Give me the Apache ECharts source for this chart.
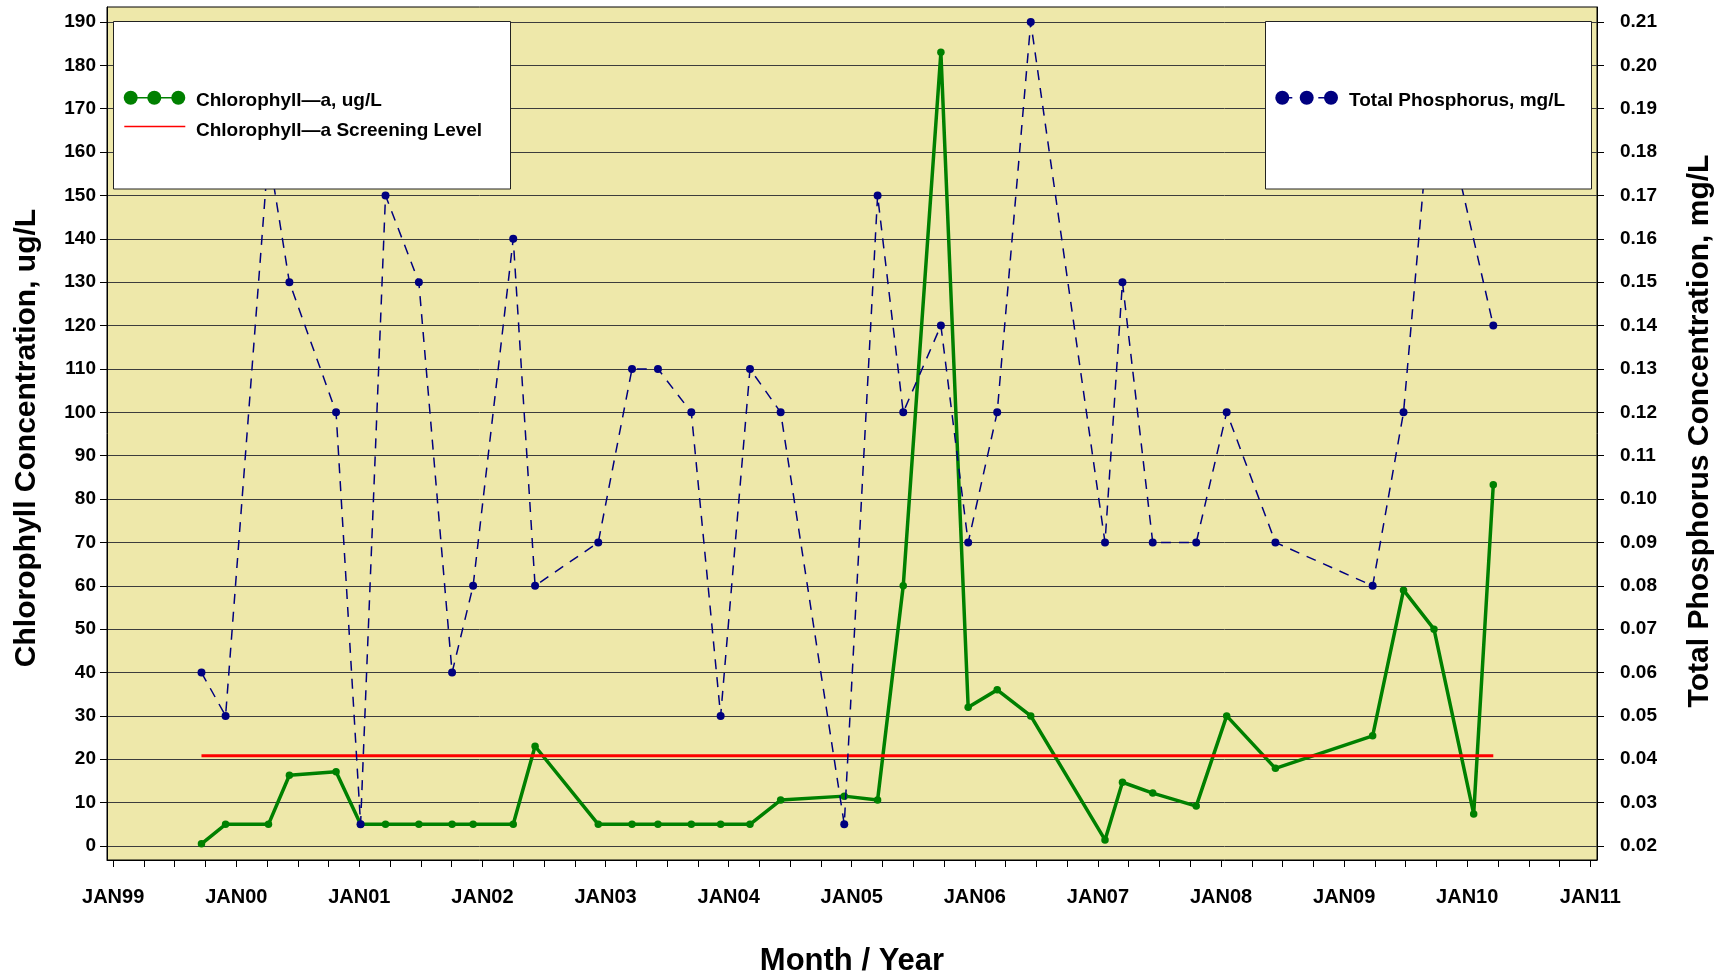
<!DOCTYPE html>
<html>
<head>
<meta charset="utf-8">
<script src="https://cdn.jsdelivr.net/npm/echarts@6/dist/echarts.min.js"></script>
<style>
html,body{margin:0;padding:0;background:#ffffff;}
#chart{width:1726px;height:975px;}
</style>
</head>
<body>
<div id="chart"></div>
<script>
// ---- data (x = months after JAN99) ----
const months = [8.61, 10.96, 15.14, 17.18, 21.73, 24.12, 26.55, 29.8, 33.04, 35.09, 39.0, 41.13, 47.29, 50.58, 53.11, 56.36, 59.22, 62.08, 65.07, 71.27, 74.52, 77.02, 80.69, 83.35, 86.18, 89.45, 96.69, 98.39, 101.34, 105.58, 108.55, 113.3, 122.78, 125.79, 128.76, 132.63, 134.54];
const chla = [0.5, 5, 5, 16.3, 17.1, 5, 5, 5, 5, 5, 5, 23, 5, 5, 5, 5, 5, 5, 10.6, 11.5, 10.6, 60, 183, 32, 36, 30, 1.4, 14.7, 12.2, 9.2, 30, 17.9, 25.4, 59, 50, 7.4, 83.3];
const phos = [0.06, 0.05, 0.18, 0.15, 0.12, 0.025, 0.17, 0.15, 0.06, 0.08, 0.16, 0.08, 0.09, 0.13, 0.13, 0.12, 0.05, 0.13, 0.12, 0.025, 0.17, 0.12, 0.14, 0.09, 0.12, 0.21, 0.09, 0.15, 0.09, 0.09, 0.12, 0.09, 0.08, 0.12, 0.20, null, 0.14];
const screeningLevel = 20.8;

// ---- tick labels ----
const xLabels = ['JAN99','JAN00','JAN01','JAN02','JAN03','JAN04','JAN05','JAN06','JAN07','JAN08','JAN09','JAN10','JAN11'];
const xLabelMonths = [0,12,24,36,48,60,72,84,96,108,120,132,144];
const xTickMonths = [0,3,6,9,12,15,18,21,24,27,30,33,36,39,42,45,48,51,54,57,60,63,66,69,72,75,78,81,84,87,90,93,96,99,102,105,108,111,114,117,120,123,126,129,132,135,138,141,144];
const leftTicks = [0,10,20,30,40,50,60,70,80,90,100,110,120,130,140,150,160,170,180,190];
const rightTicks = [0.02,0.03,0.04,0.05,0.06,0.07,0.08,0.09,0.10,0.11,0.12,0.13,0.14,0.15,0.16,0.17,0.18,0.19,0.20,0.21];

const FF = "'Liberation Sans', Arial, Helvetica, sans-serif";
const GREEN = '#008000', NAVY = '#000080', RED = '#ff0000';

const chart = echarts.init(document.getElementById('chart'), null, {renderer:'canvas'});

function txt(x, y, text, size, rot, align) {
  return {
    type:'text', x:x, y:y, rotation:rot||0, z:120, silent:true,
    style:{text:text, font:'bold '+size+'px '+FF, fill:'#000',
      align:align||'center', verticalAlign:'middle',
      textAlign:align||'center', textVerticalAlign:'middle'}
  };
}

const graphics = [
  // left legend box
  {type:'rect', z:100, silent:true, shape:{x:113.5, y:21.5, width:397, height:167.5}, style:{fill:'#ffffff', stroke:'#222', lineWidth:1}},
  {type:'line', z:110, silent:true, shape:{x1:130.7, y1:97.7, x2:178.3, y2:97.7}, style:{stroke:GREEN, lineWidth:1.5}},
  {type:'circle', z:111, silent:true, shape:{cx:130.7, cy:97.7, r:7}, style:{fill:GREEN}},
  {type:'circle', z:111, silent:true, shape:{cx:154.3, cy:97.7, r:7}, style:{fill:GREEN}},
  {type:'circle', z:111, silent:true, shape:{cx:178.3, cy:97.7, r:7}, style:{fill:GREEN}},
  txt(196, 101, 'Chlorophyll\u2014a, ug/L', 19, 0, 'left'),
  {type:'line', z:110, silent:true, shape:{x1:124.3, y1:126.5, x2:185.3, y2:126.5}, style:{stroke:RED, lineWidth:1.5}},
  txt(196, 130.5, 'Chlorophyll\u2014a Screening Level', 19, 0, 'left'),
  // right legend box
  {type:'rect', z:100, silent:true, shape:{x:1265.5, y:21.5, width:326, height:167.5}, style:{fill:'#ffffff', stroke:'#222', lineWidth:1}},
  {type:'line', z:110, silent:true, shape:{x1:1282.3, y1:97.7, x2:1331, y2:97.7}, style:{stroke:NAVY, lineWidth:1.5, lineDash:[10,8]}},
  {type:'circle', z:111, silent:true, shape:{cx:1282.3, cy:97.7, r:7}, style:{fill:NAVY}},
  {type:'circle', z:111, silent:true, shape:{cx:1306.7, cy:97.7, r:7}, style:{fill:NAVY}},
  {type:'circle', z:111, silent:true, shape:{cx:1331, cy:97.7, r:7}, style:{fill:NAVY}},
  txt(1349, 101, 'Total Phosphorus, mg/L', 19, 0, 'left'),
  // axis titles
  txt(27, 438, 'Chlorophyll Concentration, ug/L', 30, Math.PI/2),
  txt(1700, 431, 'Total Phosphorus Concentration, mg/L', 30, Math.PI/2),
  txt(852, 961, 'Month / Year', 31, 0)
];

const option = {
  animation:false,
  backgroundColor:'#ffffff',
  grid:{left:107, top:7, width:1490, height:853, show:true, backgroundColor:'#EEE8AA',
        borderColor:'#000', borderWidth:1, containLabel:false, outerBoundsMode:'none'},
  xAxis:{
    type:'value', min:-0.6, max:144.65,
    axisLine:{show:true, onZero:false, lineStyle:{color:'#000', width:1}},
    axisTick:{show:true, length:7, customValues:xTickMonths, lineStyle:{color:'#000', width:1}},
    axisLabel:{customValues:xLabelMonths, margin:27, color:'#000', fontFamily:FF, fontSize:20, fontWeight:'bold',
      formatter:function(v){ return xLabels[Math.round(v/12)]; }},
    splitLine:{show:false}
  },
  yAxis:[
    {type:'value', position:'left', min:-3.228, max:193.459,
     axisLine:{show:true, onZero:false, lineStyle:{color:'#000', width:1}},
     axisTick:{show:true, length:7, customValues:leftTicks, lineStyle:{color:'#000', width:1}},
     axisLabel:{customValues:leftTicks, margin:11, color:'#000', fontFamily:FF, fontSize:19, fontWeight:'bold'},
     splitLine:{show:true, lineStyle:{color:'#3c3c3c', width:1}}},
    {type:'value', position:'right', min:0.016772, max:0.213459,
     axisLine:{show:true, onZero:false, lineStyle:{color:'#000', width:1}},
     axisTick:{show:true, length:7, customValues:rightTicks, lineStyle:{color:'#000', width:1}},
     axisLabel:{customValues:rightTicks, margin:23, color:'#000', fontFamily:FF, fontSize:19, fontWeight:'bold',
       formatter:function(v){ return v.toFixed(2); }},
     splitLine:{show:false}}
  ],
  legend:{show:false},
  tooltip:{show:false},
  series:[
    {name:'Chlorophyll-a, ug/L', type:'line', yAxisIndex:0, z:2,
     data:months.map(function(m,i){ return [m, chla[i]]; }),
     symbol:'circle', symbolSize:7.5, showAllSymbol:true,
     lineStyle:{color:GREEN, width:3.5}, itemStyle:{color:GREEN},
     emphasis:{disabled:true}, silent:true},
    {name:'Chlorophyll-a Screening Level', type:'line', yAxisIndex:0, z:3,
     data:[[months[0], screeningLevel],[months[months.length-1], screeningLevel]],
     symbol:'none', lineStyle:{color:RED, width:3}, itemStyle:{color:RED},
     emphasis:{disabled:true}, silent:true},
    {name:'Total Phosphorus, mg/L', type:'line', yAxisIndex:1, z:4, connectNulls:true,
     data:months.map(function(m,i){ return [m, phos[i]]; }),
     symbol:'circle', symbolSize:8, showAllSymbol:true,
     lineStyle:{color:NAVY, width:1.5, type:[10,8]}, itemStyle:{color:NAVY},
     emphasis:{disabled:true}, silent:true}
  ],
  graphic:graphics
};
chart.setOption(option);
</script>
</body>
</html>
